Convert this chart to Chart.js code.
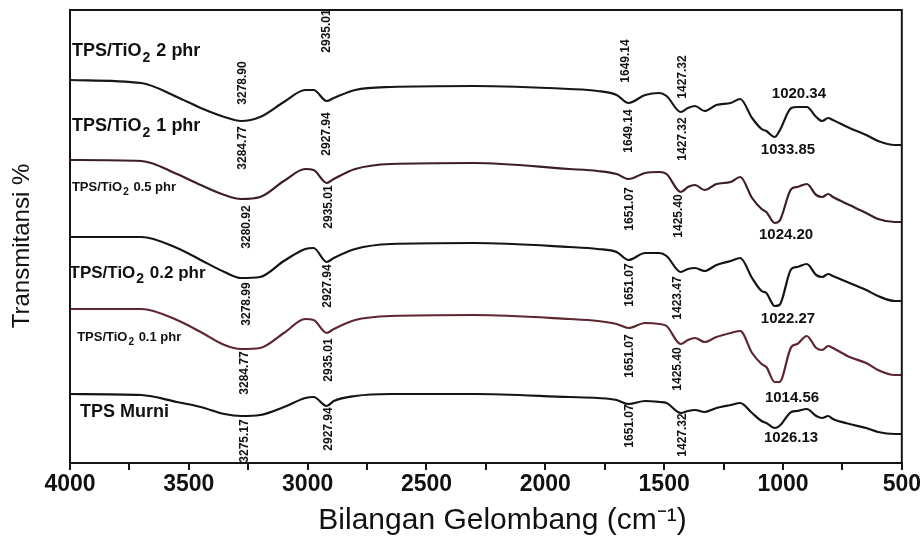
<!DOCTYPE html>
<html>
<head>
<meta charset="utf-8">
<title>FTIR TPS/TiO2</title>
<script src="https://cdn.jsdelivr.net/npm/chart.js@4.4.1/dist/chart.umd.min.js"></script>
<style>
  html, body { margin: 0; padding: 0; background: #ffffff; }
  #wrap { width: 922px; height: 540px; }
</style>
</head>
<body>
<div id="wrap"><canvas id="ftir" width="922" height="540"></canvas></div>
<script>
// Wavenumber grid (cm-1) shared by every spectrum
const wavenumbers = [4000, 3700, 3550, 3450, 3350, 3280, 3200, 3100, 3010, 2975,
  2920, 2890, 2800, 2650, 2300, 1900, 1780, 1700, 1650, 1580,
  1520, 1490, 1430, 1400, 1370, 1330, 1280, 1220, 1180, 1130,
  1090, 1070, 1035, 1015, 965, 940, 900, 860, 835, 810,
  790, 720, 650, 600, 530, 500];

// Stacked transmittance (arbitrary units, each spectrum shifted vertically)
const tio2_1phr = [383, 380, 366, 355, 346, 342, 346, 361, 373, 373,
  362, 365, 373, 376, 377, 374, 372, 368, 360, 368,
  370, 367, 351, 355, 357, 352, 358, 360, 364, 345,
  334, 332, 326, 332, 355, 356, 356, 346, 342, 345,
  343, 335, 328, 322, 318, 318];
const tio2_05phr = [303, 302, 289, 278, 268, 264, 266, 282, 294, 293,
  280, 284, 294, 299, 300, 294, 292, 289, 284, 290,
  291, 289, 271, 276, 278, 273, 279, 281, 286, 265,
  254, 251, 240, 242, 274, 276, 279, 268, 266, 269,
  266, 258, 250, 244, 241, 241];
const tio2_02phr = [226, 226, 215, 203, 191, 185, 186, 202, 214, 215,
  201, 205, 214, 219, 220, 216, 214, 211, 203, 210,
  210, 207, 191, 194, 195, 192, 198, 202, 205, 185,
  172, 170, 157, 158, 194, 196, 199, 188, 186, 189,
  187, 180, 173, 167, 162, 162];
const tio2_01phr = [154, 154, 143, 131, 118, 114, 115, 130, 144, 143,
  130, 134, 143, 147, 148, 144, 142, 139, 135, 140,
  139, 137, 119, 123, 125, 121, 126, 130, 132, 110,
  99, 96, 81, 81, 116, 119, 127, 115, 113, 117,
  115, 106, 100, 93, 88, 88];
const tpsMurni = [69, 68, 61, 56, 49, 47, 48, 56, 65, 66,
  57, 62, 67, 69, 69, 66, 65, 63, 59, 62,
  61, 60, 50, 52, 53, 51, 55, 58, 60, 50,
  42, 40, 35, 37, 51, 52, 54, 47, 45, 47,
  44, 39, 35, 31, 29, 29];

// X axis ticks
const xTicks = [4000, 3750, 3500, 3250, 3000, 2750, 2500, 2250, 2000, 1750, 1500, 1250, 1000, 750, 500];
const xTickLabels = ['4000', '', '3500', '', '3000', '', '2500', '', '2000', '', '1500', '', '1000', '', '500'];
const xTitle = 'Bilangan Gelombang (cm⁻¹)';
const yTitle = 'Transmitansi %';

// Sample names and the peak positions reported for each sample
const sampleNames = ['TPS/TiO₂ 2 phr', 'TPS/TiO₂ 1 phr', 'TPS/TiO₂ 0.5 phr', 'TPS/TiO₂ 0.2 phr', 'TPS/TiO₂ 0.1 phr', 'TPS Murni'];
const peaks2phr  = ['3278.90', '2935.01', '1649.14', '1427.32', '1020.34'];
const peaks1phr  = ['3284.77', '2927.94', '1649.14', '1427.32', '1033.85'];
const peaks05phr = ['3280.92', '2935.01', '1651.07', '1425.40', '1024.20'];
const peaks02phr = ['3278.99', '2927.94', '1651.07', '1423.47', '1022.27'];
const peaks01phr = ['3284.77', '2935.01', '1651.07', '1425.40', '1014.56'];
const peaksMurni = ['3275.17', '2927.94', '1651.07', '1427.32', '1026.13'];

// ---- layout of the annotations (data coordinates: wavenumber, stacked value) ----
const FONT = '"Liberation Sans", Arial, Helvetica, sans-serif';
const nameAnchors = [[3992, 412], [3992, 337], [3992, 276], [4002, 190], [3970, 126], [3958, 51]];
const nameSizes = [18, 18, 13, 17, 13, 18];
const peakAnchors = [
  [[3273, 380], [2920, 432], [1660, 402], [1424, 386], [933, 369]],
  [[3273, 315], [2920, 329], [1651, 332], [1424, 324], [979, 313]],
  [[3256, 236], [2912, 256], [1643, 254], [1437, 247], [987, 228]],
  [[3256, 159], [2916, 177], [1643, 178], [1441, 165], [979, 144]],
  [[3265, 90], [2912, 103], [1643, 107], [1441, 94], [962, 65]],
  [[3265, 22], [2912, 34], [1643, 37], [1424, 28], [966, 25]]
];
const peakSets = [peaks2phr, peaks1phr, peaks05phr, peaks02phr, peaks01phr, peaksMurni];

function drawName(ctx, text, px, py, size) {
  const parts = text.split('₂');
  ctx.font = 'bold ' + size + 'px ' + FONT;
  ctx.textAlign = 'left';
  ctx.textBaseline = 'middle';
  ctx.fillText(parts[0], px, py);
  if (parts.length < 2) return;
  let w = ctx.measureText(parts[0]).width;
  const sub = Math.round(size * 0.8);
  ctx.font = 'bold ' + sub + 'px ' + FONT;
  ctx.fillText('2', px + w + 1, py + size * 0.38);
  w += ctx.measureText('2').width + 2;
  ctx.font = 'bold ' + size + 'px ' + FONT;
  ctx.fillText(parts[1], px + w, py);
}

const annotate = {
  id: 'annotate',
  afterDatasetsDraw(chart) {
    const { ctx, chartArea: a, scales: { x, y } } = chart;
    ctx.save();
    // plot frame
    ctx.strokeStyle = '#151515';
    ctx.lineWidth = 2;
    ctx.strokeRect(a.left, a.top, a.right - a.left, a.bottom - a.top);
    ctx.fillStyle = '#111111';
    // sample names
    sampleNames.forEach((name, i) => {
      drawName(ctx, name, x.getPixelForValue(nameAnchors[i][0]), y.getPixelForValue(nameAnchors[i][1]), nameSizes[i]);
    });
    // peak labels
    peakSets.forEach((set, i) => {
      set.forEach((txt, j) => {
        const px = x.getPixelForValue(peakAnchors[i][j][0]);
        const py = y.getPixelForValue(peakAnchors[i][j][1]);
        ctx.textAlign = 'center';
        ctx.textBaseline = 'middle';
        if (j < 4) {
          ctx.font = 'bold 12px ' + FONT;
          ctx.save();
          ctx.translate(px, py);
          ctx.rotate(-Math.PI / 2);
          ctx.fillText(txt, 0, 0);
          ctx.restore();
        } else {
          ctx.font = 'bold 15px ' + FONT;
          ctx.fillText(txt, px, py);
        }
      });
    });
    // axis titles
    ctx.textAlign = 'center';
    ctx.textBaseline = 'middle';
    ctx.font = '30px ' + FONT;
    ctx.fillText(xTitle, x.getPixelForValue(2180), a.bottom + 58);
    ctx.save();
    ctx.translate(22, y.getPixelForValue(217));
    ctx.rotate(-Math.PI / 2);
    ctx.font = '24px ' + FONT;
    ctx.fillText(yTitle, 0, 0);
    ctx.restore();
    ctx.restore();
  }
};

function spectrum(label, values, color) {
  return {
    label: label,
    data: wavenumbers.map((w, i) => ({ x: w, y: values[i] })),
    borderColor: color,
    borderWidth: 2.2,
    pointRadius: 0,
    fill: false,
    cubicInterpolationMode: 'monotone'
  };
}

new Chart(document.getElementById('ftir'), {
  type: 'line',
  data: {
    datasets: [
      spectrum('TPS/TiO2 1 phr', tio2_1phr, '#171717'),
      spectrum('TPS/TiO2 0.5 phr', tio2_05phr, '#3e1d2b'),
      spectrum('TPS/TiO2 0.2 phr', tio2_02phr, '#141414'),
      spectrum('TPS/TiO2 0.1 phr', tio2_01phr, '#5e2630'),
      spectrum('TPS Murni', tpsMurni, '#141414')
    ]
  },
  options: {
    responsive: false,
    animation: false,
    devicePixelRatio: 1,
    layout: { padding: { left: 0, top: 10, right: 19, bottom: 0 } },
    plugins: { legend: { display: false }, tooltip: { enabled: false } },
    scales: {
      x: {
        type: 'linear',
        reverse: true,
        min: 500,
        max: 4000,
        afterBuildTicks: (scale) => { scale.ticks = xTicks.map(v => ({ value: v })); },
        afterFit: (scale) => { scale.height = 77; },
        ticks: {
          autoSkip: false,
          maxRotation: 0,
          padding: 1,
          color: '#111111',
          font: { family: FONT, size: 23, weight: 'bold' },
          callback: (value) => xTickLabels[xTicks.indexOf(value)]
        },
        grid: { display: true, drawOnChartArea: false, drawTicks: true, tickLength: 7, color: '#151515', lineWidth: 2 },
        border: { display: true, color: '#151515', width: 2 },
        title: { display: false }
      },
      y: {
        min: 0,
        max: 453,
        afterFit: (scale) => { scale.width = 70; },
        ticks: { display: false },
        grid: { display: false },
        border: { display: false },
        title: { display: false }
      }
    }
  },
  plugins: [annotate]
});
</script>
</body>
</html>
